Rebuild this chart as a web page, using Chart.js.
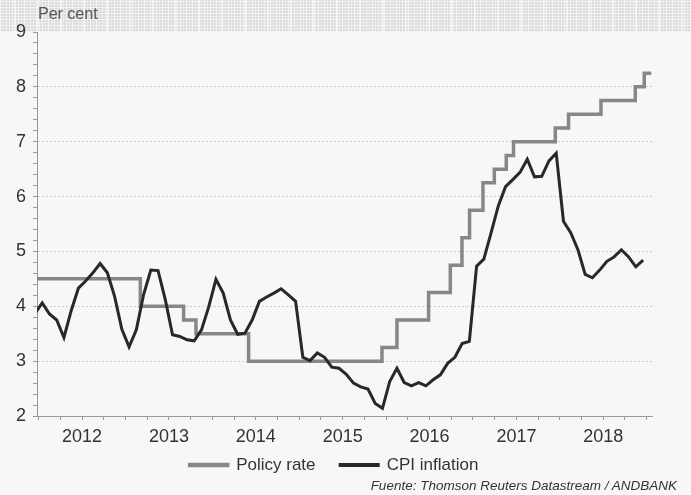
<!DOCTYPE html>
<html lang="en">
<head>
<meta charset="utf-8">
<script src="https://cdn.jsdelivr.net/npm/chart.js"></script>
<style>
  body { margin: 0; background: #f7f7f7; font-family: "Liberation Sans", Arial, sans-serif; }
  #wrap { position: relative; width: 691px; height: 495px; }
  #band {
    position: absolute; left: 0; top: 0; width: 691px; height: 32px;
    background-color: #dcdcdc;
    background-image:
      repeating-linear-gradient(90deg, rgba(255,255,255,0.6) 0 1px, transparent 1px 3px, rgba(255,255,255,0.35) 3px 4px, transparent 4px 6px),
      repeating-linear-gradient(0deg, rgba(255,255,255,0.6) 0 1px, transparent 1px 3px, rgba(255,255,255,0.35) 3px 4px, transparent 4px 6px),
      repeating-linear-gradient(90deg, transparent 0 14px, rgba(255,255,255,0.5) 14px 16px, transparent 16px 23px);
  }
  #unit { position: absolute; left: 38px; top: 5px; font-size: 16px; color: #555; }
  #source { position: absolute; right: 14px; top: 478px; font-size: 13.5px; font-style: italic; color: #333; }
  canvas { position: absolute; left: 0; top: 0; }
</style>
</head>
<body>
<div id="wrap">
  <div id="band"></div>
  <div id="unit">Per cent</div>
  <canvas id="chart" width="691" height="495"></canvas>
  <div id="source">Fuente: Thomson Reuters Datastream / ANDBANK</div>
</div>

<script>
// x values are months counted from January 2012 (0 = Jan 2012)
const years = ['2012', '2013', '2014', '2015', '2016', '2017', '2018'];

// monthly CPI inflation, Dec 2011 .. Dec 2018
const cpiFirstMonth = -1;
const cpiInflation = [
  3.87,
  4.06, 3.86, 3.75, 3.43, 3.92, 4.33, 4.46, 4.61, 4.78, 4.61, 4.18, 3.58,
  3.26, 3.57, 4.21, 4.66, 4.65, 4.12, 3.48, 3.45, 3.39, 3.37, 3.57, 3.99,
  4.49, 4.24, 3.75, 3.49, 3.51, 3.75, 4.09, 4.17, 4.24, 4.32, 4.21, 4.09,
  3.07, 3.01, 3.15, 3.07, 2.89, 2.87, 2.76, 2.60, 2.53, 2.49, 2.23, 2.14,
  2.63, 2.87, 2.61, 2.55, 2.61, 2.55, 2.66, 2.75, 2.96, 3.07, 3.32, 3.36,
  4.73, 4.86, 5.34, 5.83, 6.18, 6.31, 6.44, 6.68, 6.36, 6.37, 6.65, 6.79,
  5.55, 5.34, 5.03, 4.58, 4.52, 4.66, 4.82, 4.90, 5.03, 4.90, 4.72, 4.84
];

// policy rate: month where each new level starts, and the level
const policyChange = [-1, 13.55, 19.53, 21.24, 28.51, 46.93, 49.0, 53.37, 56.37, 57.98, 59.03,
  60.88, 62.45, 64.1, 65.1, 70.87, 72.7, 77.18, 81.92, 83.16, 84.13];
const policyRate = [4.5, 4.0, 3.75, 3.5, 3.0, 3.25, 3.75, 4.25, 4.75, 5.25, 5.75,
  6.25, 6.5, 6.75, 7.0, 7.25, 7.5, 7.75, 8.0, 8.25, 8.25];

const cpiPoints = cpiInflation.map((v, i) => ({ x: cpiFirstMonth + i, y: v }));
const policyPoints = policyRate.map((v, i) => ({ x: policyChange[i], y: v }));

const isWhole = v => Math.abs(v - Math.round(v)) < 1e-6;

Chart.defaults.font.family = "'Liberation Sans', Arial, sans-serif";
Chart.defaults.color = '#333';

new Chart(document.getElementById('chart'), {
  type: 'line',
  data: {
    datasets: [{
      label: 'Policy rate',
      data: policyPoints,
      stepped: true,
      borderColor: '#878787',
      backgroundColor: '#878787',
      borderWidth: 3.5,
      pointRadius: 0,
      order: 1
    }, {
      label: 'CPI inflation',
      data: cpiPoints,
      borderColor: '#282828',
      backgroundColor: '#282828',
      borderWidth: 3,
      pointRadius: 0,
      tension: 0,
      order: 0
    }]
  },
  options: {
    responsive: false,
    animation: false,
    layout: { padding: { top: 32, left: 16, right: 39, bottom: 11.5 } },
    scales: {
      x: {
        type: 'linear',
        min: -0.72,
        max: 84.23,
        afterBuildTicks: s => {
          const t = [];
          for (let k = 0; k <= 28; k++) t.push({ value: 3 * k - 0.5 });
          s.ticks = t;
        },
        afterFit: s => { s.height = 30; },
        ticks: {
          autoSkip: false,
          maxRotation: 0,
          padding: 6,
          color: '#333',
          font: { size: 18 },
          callback: v => {
            const q = Math.round(v + 0.5);
            return q % 12 === 6 ? years[(q - 6) / 12] : '';
          }
        },
        grid: { drawOnChartArea: false, tickLength: 4, tickColor: '#999' },
        border: { color: '#999', width: 1 }
      },
      y: {
        min: 2,
        max: 9,
        afterBuildTicks: s => {
          const t = [];
          for (let k = 0; k <= 35; k++) t.push({ value: Math.round((2 + k * 0.2) * 10) / 10 });
          s.ticks = t;
        },
        afterFit: s => { s.width = 21; },
        ticks: {
          autoSkip: false,
          padding: 7,
          color: '#333',
          font: { size: 18 },
          callback: v => isWhole(v) ? String(Math.round(v)) : ''
        },
        grid: {
          tickLength: 4,
          tickColor: '#999',
          color: c => (isWhole(c.tick.value) && c.tick.value > 2 && c.tick.value < 9) ? '#cdcdcd' : 'transparent'
        },
        border: { color: '#999', width: 1, dash: [2, 2] }
      }
    },
    plugins: {
      tooltip: { enabled: false },
      legend: {
        position: 'bottom',
        labels: {
          boxWidth: 38,
          boxHeight: 1,
          padding: 10.5,
          color: '#333',
          font: { size: 17 },
          generateLabels: chart => {
            const items = Chart.defaults.plugins.legend.labels.generateLabels(chart);
            items.forEach(it => { if (it.datasetIndex === 0) it.text += '   '; });
            return items;
          },
          sort: (a, b) => a.datasetIndex - b.datasetIndex
        }
      }
    }
  }
});
</script>
</body>
</html>
